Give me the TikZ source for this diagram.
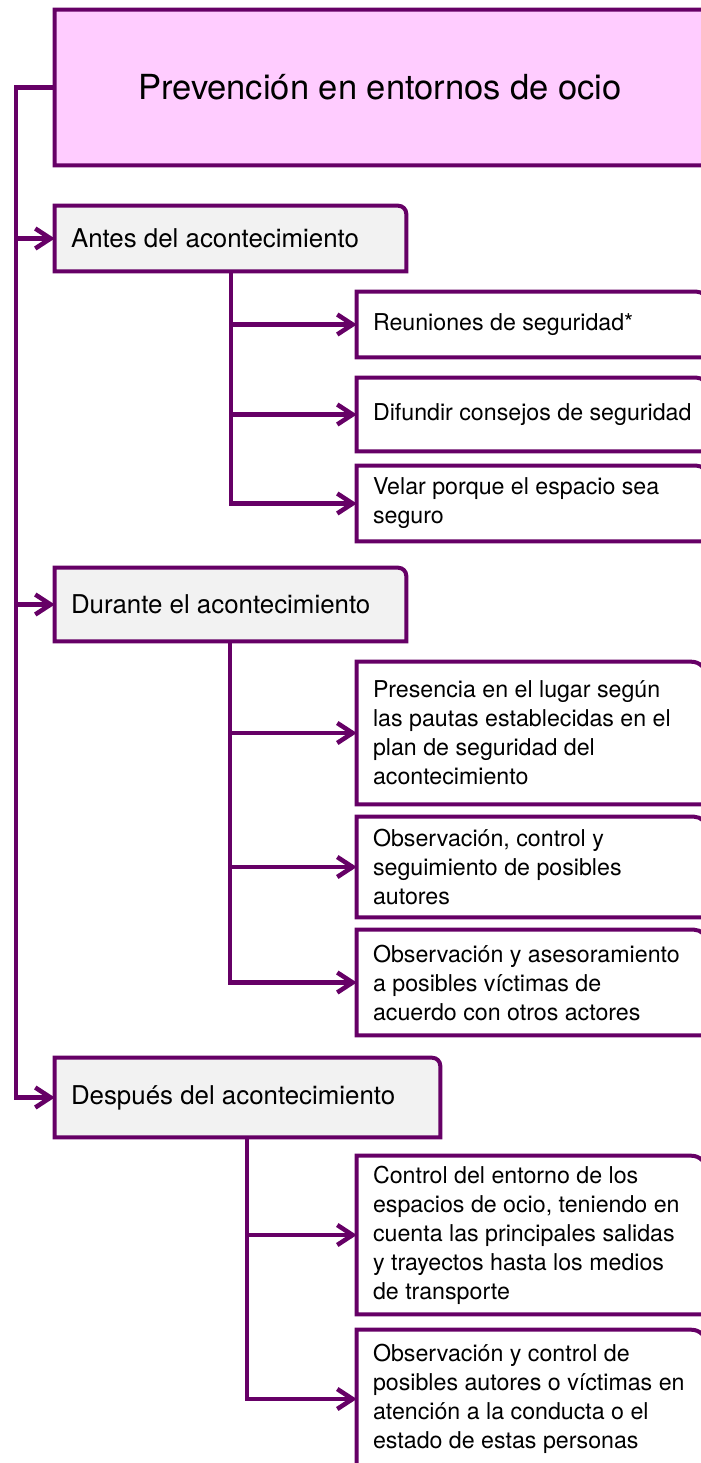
\documentclass[tikz,border=0pt]{standalone}
\usepackage{fontspec}
\setmainfont{TeX Gyre Heros}
\usetikzlibrary{arrows.meta,calc,fit}
\pgfdeclarelayer{bg}\pgfsetlayers{bg,main}
\definecolor{pur}{HTML}{660066}
\definecolor{pinkf}{HTML}{FFCCFF}
\definecolor{greyf}{HTML}{F2F2F2}
\begin{document}
\begin{tikzpicture}[x=0.75pt,y=0.75pt,
  slot/.style={inner sep=0pt},
  conn/.style={draw=pur, line width=3.4pt},
  arr/.style={conn, -{Straight Barb[length=11.5pt,width=15pt]}},
  titletxt/.style={inner sep=0pt, font=\fontsize{25.9}{30}\selectfont},
  lvltxt/.style={inner sep=0pt, anchor=west, font=\fontsize{19.4}{23}\selectfont},
  leaftxt/.style={inner sep=0pt, anchor=west, align=left, font=\fontsize{17.4}{21.75}\selectfont}]
\useasboundingbox (0,0) rectangle (700,-1463);
% box slots
\node[slot, fit={(55,-10)(714,-165)}] (title) {};
\node[slot, fit={(55,-206)(406,-271)}] (antes) {};
\node[slot, fit={(55,-568)(406,-641)}] (durante) {};
\node[slot, fit={(55,-1058)(440,-1137)}] (despues) {};
\node[slot, fit={(357,-292)(706,-357)}] (reun) {};
\node[slot, fit={(357,-378)(706,-451)}] (difu) {};
\node[slot, fit={(357,-466)(706,-541)}] (velar) {};
\node[slot, fit={(357,-662)(706,-804)}] (pres) {};
\node[slot, fit={(357,-817)(706,-917)}] (obsa) {};
\node[slot, fit={(357,-930)(706,-1035)}] (obsb) {};
\node[slot, fit={(357,-1156)(706,-1314)}] (ctrl) {};
\node[slot, fit={(357,-1330)(706,-1468)}] (obsc) {};
\begin{pgfonlayer}{bg}
\foreach \n/\rr/\c in {title/10/pinkf, antes/6/greyf, durante/6/greyf, despues/6/greyf,
  reun/7/white, difu/7/white, velar/7/white, pres/11/white, obsa/9/white, obsb/9/white,
  ctrl/11/white, obsc/11/white}
  \draw[draw=pur, line width=3pt, fill=\c] (\n.south west) -- (\n.north west)
     -- ([xshift=-\rr pt]\n.north east) arc[start angle=90, end angle=0, radius=\rr pt]
     -- (\n.south east) -- cycle;
\end{pgfonlayer}
% texts
\node[titletxt] (t0) at ([xshift=-3.4pt]title.center) {Prevención en entornos de ocio};
\node[lvltxt] (t1) at ([xshift=12pt]antes.west) {Antes del acontecimiento};
\node[lvltxt] (t2) at ([xshift=12pt]durante.west) {Durante el acontecimiento};
\node[lvltxt] (t3) at ([xshift=12pt]despues.west) {Después del acontecimiento};
\node[leaftxt] (l1) at ([xshift=12pt]reun.west) {Reuniones de seguridad*};
\node[leaftxt] (l2) at ([xshift=12pt]difu.west) {Difundir consejos de seguridad};
\node[leaftxt] (l3) at ([xshift=12pt]velar.west) {Velar porque el espacio sea\\seguro};
\node[leaftxt] (l4) at ([xshift=12pt]pres.west) {Presencia en el lugar según\\las pautas establecidas en el\\plan de seguridad del\\acontecimiento};
\node[leaftxt] (l5) at ([xshift=12pt]obsa.west) {Observación, control y\\seguimiento de posibles\\autores};
\node[leaftxt] (l6) at ([xshift=12pt]obsb.west) {Observación y asesoramiento\\a posibles víctimas de\\acuerdo con otros actores};
\node[leaftxt] (l7) at ([xshift=12pt]ctrl.west) {Control del entorno de los\\espacios de ocio, teniendo en\\cuenta las principales salidas\\y trayectos hasta los medios\\de transporte};
\node[leaftxt] (l8) at ([xshift=12pt]obsc.west) {Observación y control de\\posibles autores o víctimas en\\atención a la conducta o el\\estado de estas personas};
% connectors
\coordinate (tk) at (16,0);
\coordinate (ca) at (231,0);
\coordinate (cd) at (230,0);
\coordinate (cp) at (247,0);
\draw[arr] (title.west) -| (tk |- despues.west) -- (despues.west);
\draw[arr] (tk |- antes.west) -- (antes.west);
\draw[arr] (tk |- durante.west) -- (durante.west);
\draw[arr] (ca |- antes.south) |- (velar.west);
\draw[arr] (ca |- reun.west) -- (reun.west);
\draw[arr] (ca |- difu.west) -- (difu.west);
\draw[arr] (cd |- durante.south) |- (obsb.west);
\draw[arr] (cd |- pres.west) -- (pres.west);
\draw[arr] (cd |- obsa.west) -- (obsa.west);
\draw[arr] (cp |- despues.south) |- (obsc.west);
\draw[arr] (cp |- ctrl.west) -- (ctrl.west);
\end{tikzpicture}
\end{document}
